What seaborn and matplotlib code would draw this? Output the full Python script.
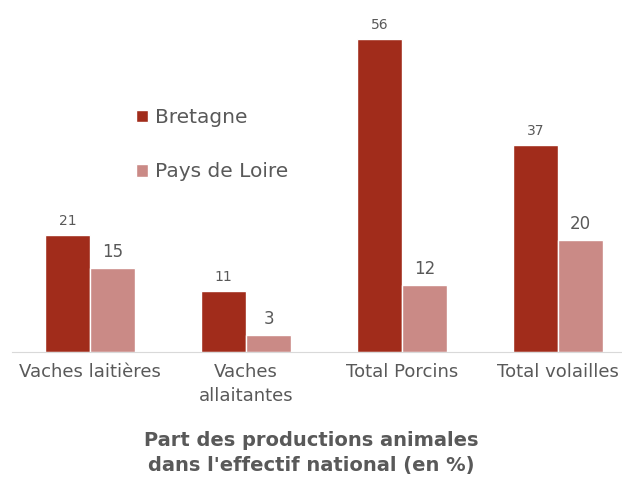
import pandas as pd
import matplotlib.pyplot as plt
import seaborn as sns

# Données
categories = ["Vaches laitières", "Vaches\nallaitantes", "Total Porcins", "Total volailles"]
bretagne = [21, 11, 56, 37]
pays_de_loire = [15, 3, 12, 20]
regions = ["Bretagne", "Pays de Loire"]
couleurs = ["#A12C1B", "#CA8A86"]

df = pd.DataFrame({
    "Categorie": categories * 2,
    "Region": [regions[0]] * 4 + [regions[1]] * 4,
    "Valeur": bretagne + pays_de_loire,
})

sns.set_style("white")
plt.rcParams["font.family"] = ["DejaVu Sans"]
gris = "#595959"

fig = plt.figure(figsize=(6.22, 4.88), dpi=100)
ax = fig.add_axes([12 / 622, 136 / 488, 610 / 622, 335.4 / 488])

sns.barplot(data=df, x="Categorie", y="Valeur", hue="Region",
            palette=couleurs, width=0.577, saturation=1, ax=ax)

ax.set_ylim(0, 60)
ax.set_xlim(-0.5, 3.41)

# Etiquettes de valeurs
ax.bar_label(ax.containers[0], padding=5, fontsize=10, color=gris)
ax.bar_label(ax.containers[1], padding=5, fontsize=12, color=gris)

# Axes
sns.despine(ax=ax, left=True)
ax.spines["bottom"].set_color("#D9D9D9")
ax.set_yticks([])
ax.set_xlabel("")
ax.set_ylabel("")
ax.tick_params(axis="x", length=0, labelsize=13, labelcolor=gris, pad=8)
for lab in ax.get_xticklabels():
    lab.set_linespacing(1.45)

# Légende
leg = ax.legend(loc="upper left", bbox_to_anchor=(118 / 622, 1 - 90 / 488),
                bbox_transform=fig.transFigure, frameon=False, fontsize=14.5,
                handlelength=0.6, handleheight=0.6, handletextpad=0.35,
                labelspacing=1.75)
for t in leg.get_texts():
    t.set_color(gris)

# Titre en bas
fig.text(0.5, 1 - 453 / 488, "Part des productions animales\ndans l'effectif national (en %)",
         ha="center", va="center", fontsize=14, fontweight="bold", color=gris,
         linespacing=1.4)

plt.savefig("out.png", dpi=100)
